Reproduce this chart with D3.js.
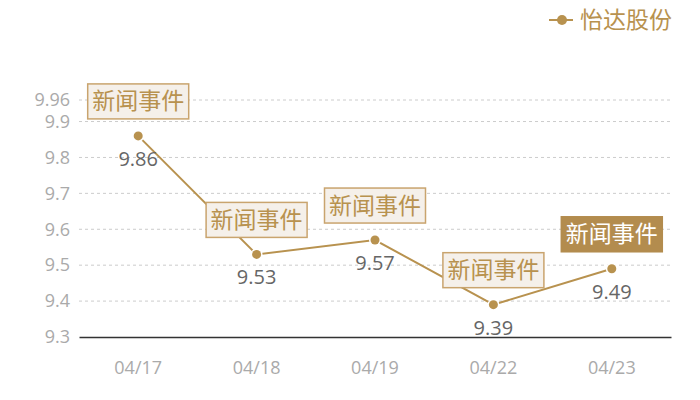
<!DOCTYPE html>
<html>
<head>
<meta charset="utf-8">
<script src="https://cdn.jsdelivr.net/npm/d3@7"></script>
<style>
  body { margin: 0; background: #fff; }
  svg { font-family: "Noto Sans CJK SC", "Noto Sans", sans-serif; }
</style>
</head>
<body>
<div id="chart"></div>
<script>
// --- Data ---
const dates = ["04/17", "04/18", "04/19", "04/22", "04/23"];
const prices = [9.86, 9.53, 9.57, 9.39, 9.49];
const yTicks = [9.3, 9.4, 9.5, 9.6, 9.7, 9.8, 9.9, 9.96];
const eventLabels = ["新闻事件", "新闻事件", "新闻事件", "新闻事件", "新闻事件"];
const highlighted = [false, false, false, false, true];
const seriesName = "怡达股份";

const width = 700, height = 400;
const margin = { top: 100, right: 29, bottom: 63, left: 79 };
const gold = "#b8924f";

const svg = d3.select("#chart").append("svg")
  .attr("width", width).attr("height", height);

// --- Scales ---
const x = d3.scaleBand()
  .domain(dates)
  .range([margin.left, width - margin.right]);

const y = d3.scaleLinear()
  .domain([9.3, 9.96])
  .range([height - margin.bottom, margin.top]);

const cx = d => x(d) + x.bandwidth() / 2;

// --- Grid lines ---
svg.append("g")
  .selectAll("line")
  .data(yTicks.filter(t => t !== 9.3))
  .enter().append("line")
  .attr("x1", margin.left).attr("x2", width - margin.right)
  .attr("y1", d => y(d)).attr("y2", d => y(d))
  .attr("stroke", "#ccc")
  .attr("stroke-dasharray", "3,3");

// --- Y axis ---
const yAxis = svg.append("g")
  .attr("transform", `translate(${margin.left},0)`)
  .call(d3.axisLeft(y).tickValues(yTicks).tickSize(0).tickPadding(9)
    .tickFormat(d => String(d)));
yAxis.select(".domain").remove();
yAxis.selectAll("text").attr("fill", "#aaa").style("font-size", "18px")
  .style("font-family", "'Open Sans', sans-serif");

// --- X axis ---
const xAxis = svg.append("g")
  .attr("transform", `translate(0,${y(9.3)})`)
  .call(d3.axisBottom(x).tickSize(0).tickPadding(24));
xAxis.select(".domain").attr("stroke", "#333").attr("stroke-width", 1.5);
xAxis.selectAll("text").attr("fill", "#aaa").style("font-size", "18px")
  .style("font-family", "'Open Sans', sans-serif");

const pts = dates.map((d, i) => ({ date: d, value: prices[i], label: eventLabels[i], hi: highlighted[i] }));

// --- Line ---
svg.append("path")
  .datum(pts)
  .attr("fill", "none")
  .attr("stroke", gold)
  .attr("stroke-width", 2)
  .attr("d", d3.line().x(d => cx(d.date)).y(d => y(d.value)));

// --- Points ---
svg.selectAll("circle.pt")
  .data(pts)
  .enter().append("circle")
  .attr("class", "pt")
  .attr("cx", d => cx(d.date)).attr("cy", d => y(d.value))
  .attr("r", 4.5)
  .attr("fill", gold)
  .attr("stroke", "#fff")
  .attr("stroke-width", 3)
  .attr("paint-order", "stroke");

// --- Value labels ---
svg.selectAll("text.val")
  .data(pts)
  .enter().append("text")
  .attr("class", "val")
  .attr("x", d => cx(d.date)).attr("y", d => y(d.value) + 30)
  .attr("text-anchor", "middle")
  .attr("fill", "#666")
  .style("font-size", "20px")
  .style("font-family", "'Open Sans', sans-serif")
  .text(d => d.value.toFixed(2));

// --- Event markers ---
const boxW = 101, boxH = 35;
const ev = svg.selectAll("g.ev")
  .data(pts)
  .enter().append("g")
  .attr("class", "ev")
  .attr("transform", d => `translate(${cx(d.date) - boxW / 2},${y(d.value) - 17 - boxH})`);

ev.append("rect")
  .attr("width", boxW).attr("height", boxH)
  .attr("fill", d => d.hi ? "#b38c4e" : "#f5f0ea")
  .attr("stroke", d => d.hi ? "#b38c4e" : "#c9a46e")
  .attr("stroke-width", 1.5);

ev.append("text")
  .attr("x", boxW / 2).attr("y", boxH / 2 + 8)
  .attr("text-anchor", "middle")
  .attr("fill", d => d.hi ? "#fff" : gold)
  .style("font-size", "23px")
  .text(d => d.label);

// --- Legend ---
const lg = svg.append("g").attr("transform", "translate(549,20)");
lg.append("line").attr("x1", 0).attr("x2", 24).attr("stroke", gold).attr("stroke-width", 2);
lg.append("circle").attr("cx", 13).attr("r", 5).attr("fill", gold);
lg.append("text").attr("x", 31).attr("y", 8)
  .attr("fill", gold).style("font-size", "23px").text(seriesName);
</script>
</body>
</html>
